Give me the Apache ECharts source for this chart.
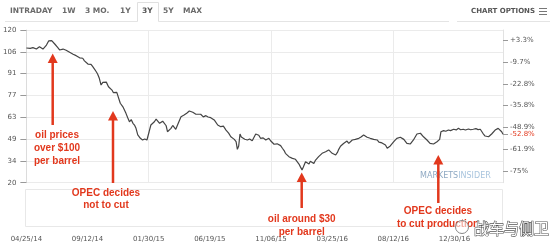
<!DOCTYPE html>
<html><head><meta charset="utf-8">
<script src="https://cdn.jsdelivr.net/npm/echarts@6/dist/echarts.min.js"></script>
<style>html,body{margin:0;padding:0;background:#fff}#c{width:554px;height:252px}</style>
</head><body><div id="c"></div>
<script>
const dates = ['2014-04-25','2014-04-29','2014-05-04','2014-05-07','2014-05-10','2014-05-14','2014-05-18','2014-05-21','2014-05-25','2014-05-29','2014-06-02','2014-06-06','2014-06-10','2014-06-15','2014-06-19','2014-06-22','2014-06-25','2014-06-29','2014-07-02','2014-07-06','2014-07-10','2014-07-14','2014-07-18','2014-07-21','2014-07-25','2014-07-29','2014-08-02','2014-08-06','2014-08-10','2014-08-13','2014-08-17','2014-08-21','2014-08-25','2014-08-29','2014-09-01','2014-09-05','2014-09-09','2014-09-13','2014-09-17','2014-09-20','2014-09-24','2014-09-28','2014-10-02','2014-10-05','2014-10-09','2014-10-13','2014-10-17','2014-10-21','2014-10-25','2014-10-30','2014-11-03','2014-11-07','2014-11-10','2014-11-13','2014-11-18','2014-11-22','2014-11-26','2014-12-02','2014-12-05','2014-12-09','2014-12-13','2014-12-17','2014-12-21','2014-12-25','2014-12-29','2015-01-01','2015-01-05','2015-01-08','2015-01-11','2015-01-16','2015-01-21','2015-01-26','2015-01-31','2015-02-04','2015-02-08','2015-02-12','2015-02-16','2015-02-20','2015-02-24','2015-02-27','2015-03-03','2015-03-07','2015-03-11','2015-03-14','2015-03-18','2015-03-22','2015-03-26','2015-03-30','2015-04-02','2015-04-06','2015-04-10','2015-04-14','2015-04-17','2015-04-21','2015-04-27','2015-05-03','2015-05-07','2015-05-11','2015-05-14','2015-05-18','2015-05-22','2015-05-29','2015-06-04','2015-06-10','2015-06-15','2015-06-21','2015-06-25','2015-06-29','2015-07-03','2015-07-07','2015-07-10','2015-07-14','2015-07-20','2015-07-26','2015-08-01','2015-08-06','2015-08-10','2015-08-14','2015-08-18','2015-08-21','2015-08-24','2015-08-27','2015-08-30','2015-09-02','2015-09-07','2015-09-13','2015-09-18','2015-09-24','2015-09-28','2015-10-02','2015-10-06','2015-10-09','2015-10-13','2015-10-19','2015-10-25','2015-10-28','2015-11-01','2015-11-05','2015-11-09','2015-11-13','2015-11-17','2015-11-20','2015-11-24','2015-11-28','2015-12-02','2015-12-06','2015-12-09','2015-12-13','2015-12-17','2015-12-21','2015-12-25','2015-12-29','2016-01-01','2016-01-05','2016-01-09','2016-01-12','2016-01-16','2016-01-19','2016-01-24','2016-01-28','2016-02-01','2016-02-04','2016-02-08','2016-02-12','2016-02-16','2016-02-20','2016-02-23','2016-02-27','2016-03-02','2016-03-06','2016-03-10','2016-03-14','2016-03-17','2016-03-21','2016-03-25','2016-03-29','2016-04-02','2016-04-06','2016-04-09','2016-04-13','2016-04-17','2016-04-20','2016-04-24','2016-04-28','2016-05-02','2016-05-06','2016-05-10','2016-05-13','2016-05-17','2016-05-21','2016-05-25','2016-05-30','2016-06-05','2016-06-09','2016-06-13','2016-06-16','2016-06-20','2016-06-24','2016-06-28','2016-07-02','2016-07-06','2016-07-10','2016-07-13','2016-07-17','2016-07-21','2016-07-25','2016-07-29','2016-08-02','2016-08-05','2016-08-09','2016-08-13','2016-08-17','2016-08-20','2016-08-24','2016-08-28','2016-09-01','2016-09-05','2016-09-08','2016-09-12','2016-09-16','2016-09-20','2016-09-24','2016-09-27','2016-10-01','2016-10-05','2016-10-09','2016-10-13','2016-10-17','2016-10-20','2016-10-24','2016-10-28','2016-11-01','2016-11-04','2016-11-08','2016-11-12','2016-11-16','2016-11-20','2016-11-23','2016-11-26','2016-11-28','2016-11-29','2016-12-02','2016-12-05','2016-12-10','2016-12-16','2016-12-21','2016-12-28','2017-01-03','2017-01-08','2017-01-13','2017-01-19','2017-01-24','2017-01-31','2017-02-05','2017-02-11','2017-02-17','2017-02-22','2017-02-27','2017-03-02','2017-03-05','2017-03-10','2017-03-14','2017-03-18','2017-03-21','2017-03-25','2017-03-29','2017-04-02','2017-04-06','2017-04-09','2017-04-13','2017-04-17','2017-04-20'];
const prices = [108.0,106.9,107.8,107.1,108.2,107.0,107.3,108.3,108.8,107.6,107.3,108.6,109.9,112.6,113.9,112.8,112.0,110.6,109.9,108.2,106.7,107.8,107.3,107.9,106.5,106.0,105.2,104.9,103.9,104.3,103.0,102.4,101.6,102.0,101.3,99.6,98.6,97.5,96.9,97.3,95.8,94.2,92.5,91.0,88.2,83.8,85.5,84.9,85.7,82.7,82.0,80.5,78.9,77.7,79.0,79.4,71.9,69.6,68.4,65.3,62.4,59.8,61.2,58.8,57.4,55.5,51.2,50.6,49.0,47.9,48.6,47.9,53.3,57.7,56.9,59.8,61.5,61.0,58.8,59.8,60.2,61.0,57.2,53.3,54.2,55.5,57.4,56.6,54.9,57.7,57.9,63.1,62.5,64.2,65.4,66.8,66.2,66.0,64.9,64.7,65.5,64.7,63.0,63.8,62.9,62.5,63.0,61.0,60.1,57.7,58.3,56.6,56.9,54.4,52.4,50.0,50.6,48.3,46.9,41.8,44.0,51.8,49.8,50.0,48.4,47.9,48.6,47.4,48.3,51.8,52.3,51.0,49.0,49.3,47.9,48.8,49.0,47.4,46.8,45.1,44.6,45.4,45.7,44.2,42.5,41.0,39.2,38.5,37.0,36.4,35.9,36.7,35.3,34.5,32.2,30.5,28.3,30.2,33.7,32.9,32.2,34.0,34.4,32.6,34.8,35.9,37.0,36.5,39.2,38.6,40.2,39.5,41.4,40.8,39.2,40.0,38.1,39.8,41.8,43.8,44.0,45.6,46.8,47.2,45.7,46.0,47.9,47.3,48.3,47.6,49.0,49.9,51.2,50.1,49.7,48.4,49.0,49.7,48.3,48.9,47.9,46.5,46.8,46.0,45.3,44.6,42.5,42.9,44.0,44.6,46.8,48.1,49.0,48.5,49.7,48.8,48.3,47.0,45.7,46.5,45.3,46.3,47.9,49.0,51.8,51.9,52.3,51.0,50.0,50.6,47.9,46.9,45.7,46.2,45.3,46.0,46.8,47.5,48.3,47.0,53.3,53.0,54.0,53.6,54.4,54.0,54.9,54.5,55.5,54.6,54.9,54.4,55.1,54.6,54.9,55.3,54.7,54.9,54.3,52.3,50.5,50.9,50.0,50.6,51.8,53.0,54.4,55.0,55.5,54.4,53.3,51.7];

const priceTicks = [20, 34.25, 48.5, 62.75, 77, 91.25, 105.5, 119.75];
const priceTickLabels = ['20','34','49','63','77','91','106','120'];
const basePrice = 109.6;
const pctTicks = [3.3, -9.75, -22.8, -35.85, -48.9, -61.95, -75, -52.8];
const pctTickLabels = ['+3.3%','-9.7%','-22.8%','-35.8%','-48.9%','-61.9%','-75%','-52.8%'];
const currentPctLabel = '-52.8%';
const xLabelDates = ['2014-04-25','2014-09-12','2015-01-30','2015-06-19','2015-11-06','2016-03-25','2016-08-12','2016-12-30'];
const xGridDates = ['2014-04-25','2015-01-30','2015-11-06','2016-08-12'];
const yMin = 20, yMax = 119.75;
const xMin = '2014-04-25', xMax = '2017-04-20';
const tabs = ['INTRADAY','1W','3 MO.','1Y','3Y','5Y','MAX'];

function ts(s){const p=s.split('-').map(Number);return new Date(p[0],p[1]-1,p[2]).getTime();}
function pad(n){return (n<10?'0':'')+n;}
function lookup(vals, labels, v){for(let i=0;i<vals.length;i++){if(Math.abs(vals[i]-v)<1e-6)return labels[i];}return '';}

const chart = echarts.init(document.getElementById('c'), null, {renderer:'canvas'});
const RED = '#e2381d';
const annFont = 'bold 10px "Liberation Sans", Arial, sans-serif';

const tabX = [10,62,85,120,142,163,183];
const graphics = [];
tabs.forEach((t,i)=>{
  graphics.push({type:'text', x:tabX[i], y:11, style:{text:t, fill: t==='3Y'?'#555':'#6a6a6a', font:'bold 7.5px "DejaVu Sans", sans-serif', verticalAlign:'middle'}});
});
graphics.push(
  {type:'line', shape:{x1:5,y1:21.5,x2:137.5,y2:21.5}, style:{stroke:'#e4e4e4',lineWidth:1}},
  {type:'line', shape:{x1:158.5,y1:21.5,x2:449,y2:21.5}, style:{stroke:'#e4e4e4',lineWidth:1}},
  {type:'line', shape:{x1:457,y1:21.5,x2:550,y2:21.5}, style:{stroke:'#e4e4e4',lineWidth:1}},
  {type:'polyline', shape:{points:[[137.5,21.5],[137.5,2.5],[158.5,2.5],[158.5,21.5]]}, style:{stroke:'#e0e0e0',lineWidth:1,fill:'none'}},
  {type:'text', x:535, y:11, style:{text:'CHART OPTIONS', fill:'#555', font:'bold 7px "DejaVu Sans", sans-serif', align:'right', verticalAlign:'middle'}},
  {type:'line', shape:{x1:539,y1:8.5,x2:547,y2:8.5}, style:{stroke:'#777',lineWidth:1}},
  {type:'line', shape:{x1:539,y1:11.5,x2:547,y2:11.5}, style:{stroke:'#777',lineWidth:1}},
  {type:'line', shape:{x1:539,y1:14.5,x2:547,y2:14.5}, style:{stroke:'#777',lineWidth:1}},
  {type:'rect', shape:{x:25.5,y:189.5,width:477,height:37}, style:{fill:'none',stroke:'#e8e8e8',lineWidth:1}},
  {type:'text', x:420, y:176, style:{text:'{a|MARKETS}{b|INSIDER}', verticalAlign:'middle', rich:{a:{fill:'#8fa9c3',font:'8px "DejaVu Sans", sans-serif'},b:{fill:'#a9c5de',font:'8px "DejaVu Sans", sans-serif'}}}}
);
const anns = [
  {x:52.7, tip:53.5, bot:125, text:'oil prices\nover $100\nper barrel', tx:57, ty:129, lh:12.8},
  {x:113, tip:111, bot:183, text:'OPEC decides\nnot to cut', tx:106, ty:186.5, lh:12.5},
  {x:301.7, tip:172.5, bot:208, text:'oil around $30\nper barrel', tx:301.7, ty:213, lh:12.7},
  {x:438.3, tip:155, bot:203, text:'OPEC decides\nto cut production', tx:438, ty:205.5, lh:12.4}
];
anns.forEach(a=>{
  graphics.push({type:'line', z:50, shape:{x1:a.x,y1:a.tip+8,x2:a.x,y2:a.bot}, style:{stroke:RED,lineWidth:2.5}});
  graphics.push({type:'polygon', z:50, shape:{points:[[a.x-5,a.tip+9.5],[a.x,a.tip],[a.x+5,a.tip+9.5]]}, style:{fill:RED}});
  graphics.push({type:'text', z:50, x:a.tx, y:a.ty, style:{text:a.text, fill:RED, font:annFont, align:'center', verticalAlign:'top', lineHeight:a.lh}});
});
graphics.push(
  {type:'circle', z:60, shape:{cx:462,cy:227,r:6.5}, style:{fill:'rgba(255,255,255,0.6)',stroke:'#888',lineWidth:1}},
  {type:'text', z:60, x:474, y:228, style:{text:'战车与侧卫', fill:'#ffffff', stroke:'#555', lineWidth:1.2, font:'15px "Noto Sans CJK SC", sans-serif', verticalAlign:'middle'}}
);

const option = {
  animation:false,
  backgroundColor:'#fff',
  grid:{left:25, right:51, top:30, bottom:69.3, containLabel:false},
  xAxis:{
    type:'value', min:ts(xMin), max:ts(xMax),
    axisLine:{show:false},
    axisTick:{show:false, customValues:xGridDates.map(ts)},
    splitLine:{show:true, lineStyle:{color:'#ebebeb', width:1}},
    axisLabel:{customValues:xLabelDates.map(ts), margin:53, color:'#555', fontSize:7, fontFamily:'DejaVu Sans',
      formatter:function(v){const d=new Date(v);return pad(d.getMonth()+1)+'/'+pad(d.getDate())+'/'+pad(d.getFullYear()%100);}}
  },
  yAxis:[{
    type:'value', position:'left', min:yMin, max:yMax,
    axisLine:{show:true, lineStyle:{color:'#dcdcdc'}},
    axisTick:{show:true, length:6, customValues:priceTicks, lineStyle:{color:'#999'}},
    splitLine:{show:true, lineStyle:{color:'#ebebeb'}},
    axisLabel:{customValues:priceTicks, margin:10, color:'#555', fontSize:7, fontFamily:'DejaVu Sans',
      formatter:function(v){return lookup(priceTicks, priceTickLabels, v);}}
  },{
    type:'value', position:'right', min:(yMin/basePrice-1)*100, max:(yMax/basePrice-1)*100,
    axisLine:{show:true, lineStyle:{color:'#e2e2e2'}},
    axisTick:{show:true, length:5, customValues:pctTicks, lineStyle:{color:'#999'}},
    splitLine:{show:false},
    axisLabel:{customValues:pctTicks, margin:7, color:'#555', fontSize:7, fontFamily:'DejaVu Sans',
      formatter:function(v){const t=lookup(pctTicks, pctTickLabels, v);return t===currentPctLabel?'{r|'+t+'}':t;},
      rich:{r:{color:'#e2381d', fontSize:7, fontFamily:'DejaVu Sans'}}}
  }],
  series:[{
    type:'line', yAxisIndex:0, showSymbol:false, symbol:'none',
    data:dates.map((d,i)=>[ts(d), prices[i]]),
    lineStyle:{color:'#444', width:1.2}
  }],
  graphic:graphics
};
chart.setOption(option);
</script></body></html>
